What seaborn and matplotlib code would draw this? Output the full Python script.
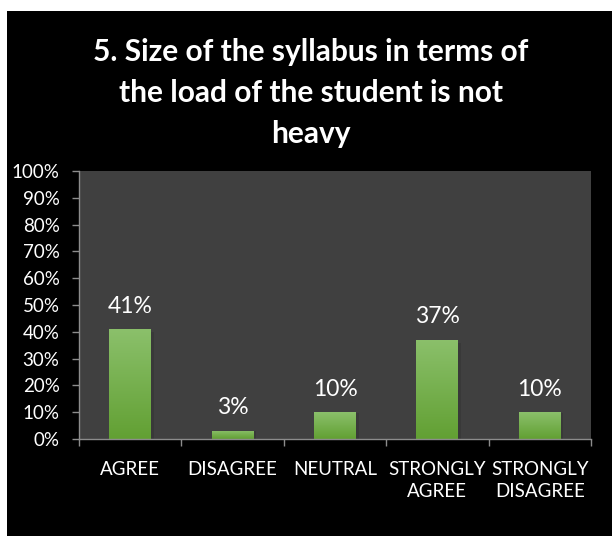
import numpy as np
import pandas as pd
import matplotlib
matplotlib.use("Agg")
import matplotlib.pyplot as plt
import matplotlib.colors as mcolors
from matplotlib.patches import Rectangle
import seaborn as sns

# data
categories = ["AGREE", "DISAGREE", "NEUTRAL", "STRONGLY\nAGREE", "STRONGLY\nDISAGREE"]
percent = [41, 3, 10, 37, 10]
title = "5. Size of the syllabus in terms of\nthe load of the student is not\nheavy"

sns.set_theme(style="white")
plt.rcParams['font.family'] = ['Lato', 'DejaVu Sans']

df = pd.DataFrame({"category": categories, "value": percent})

fig = plt.figure(figsize=(6.12, 5.36), dpi=100, facecolor="white")
# black chart panel
fig.patches.append(Rectangle((7 / 612, 0), 1, (536 - 11) / 536,
                             transform=fig.transFigure, facecolor="black",
                             edgecolor="none", zorder=-5))

ax = fig.add_axes([79 / 612, 1 - 439 / 536, 512 / 612, 268 / 536])
ax.set_facecolor("#404040")

sns.barplot(data=df, x="category", y="value", color="#70AD47", width=0.41,
            saturation=1, linewidth=0, ax=ax)

# vertical gradient fill on each bar
top_c = np.array(mcolors.to_rgb("#8BC06B"))
bot_c = np.array(mcolors.to_rgb("#62A033"))
t = np.linspace(0, 1, 128)[:, None]
grad = top_c * (1 - t) + bot_c * t
grad = grad[:, None, :]
for p in list(ax.patches):
    p.set_edgecolor("none")
    p.set_linewidth(0)
    x0, y0 = p.get_x(), p.get_y()
    w, h = p.get_width(), p.get_height()
    # soft shadow on the right
    ax.add_patch(Rectangle((x0 + w, y0), 0.025, h * 0.97, facecolor="#393939",
                           edgecolor="none", linewidth=0, zorder=1))
    im = ax.imshow(grad, extent=[x0, x0 + w, y0, y0 + h], aspect="auto",
                   zorder=2, interpolation="bilinear")
    im.set_clip_path(p)

for i, v in enumerate(percent):
    ax.annotate(f"{v}%", (i, v), xytext=(0, 9), textcoords="offset points",
                ha="center", va="bottom", color="white", fontsize=16.5)

ax.set_xlim(-0.5, 4.5)
ax.set_ylim(0, 100)
ax.set_yticks(range(0, 101, 10))
ax.set_yticklabels([f"{v}%" for v in range(0, 101, 10)])
ax.set_xlabel("")
ax.set_ylabel("")

for s in ["top", "right"]:
    ax.spines[s].set_visible(False)
for s in ["left", "bottom"]:
    ax.spines[s].set_color("#8c8c8c")
    ax.spines[s].set_linewidth(1)

ax.tick_params(axis="y", which="major", direction="out", length=5, width=1,
               color="#8c8c8c", left=True, labelsize=13.5, labelcolor="white",
               pad=9)
ax.tick_params(axis="x", which="major", length=0, labelsize=13.5,
               labelcolor="white", pad=16)
ax.set_xticks(np.arange(-0.5, 5, 1), minor=True)
ax.tick_params(axis="x", which="minor", direction="out", length=5, width=1,
               color="#8c8c8c", bottom=True)
for lbl in ax.get_xticklabels():
    lbl.set_linespacing(1.35)

fig.text(0.508, 1 - 38 / 536, title, ha="center", va="top", color="white",
         fontsize=21.5, fontweight="bold", linespacing=1.56)

fig.savefig("out.png", dpi=100, facecolor=fig.get_facecolor())
